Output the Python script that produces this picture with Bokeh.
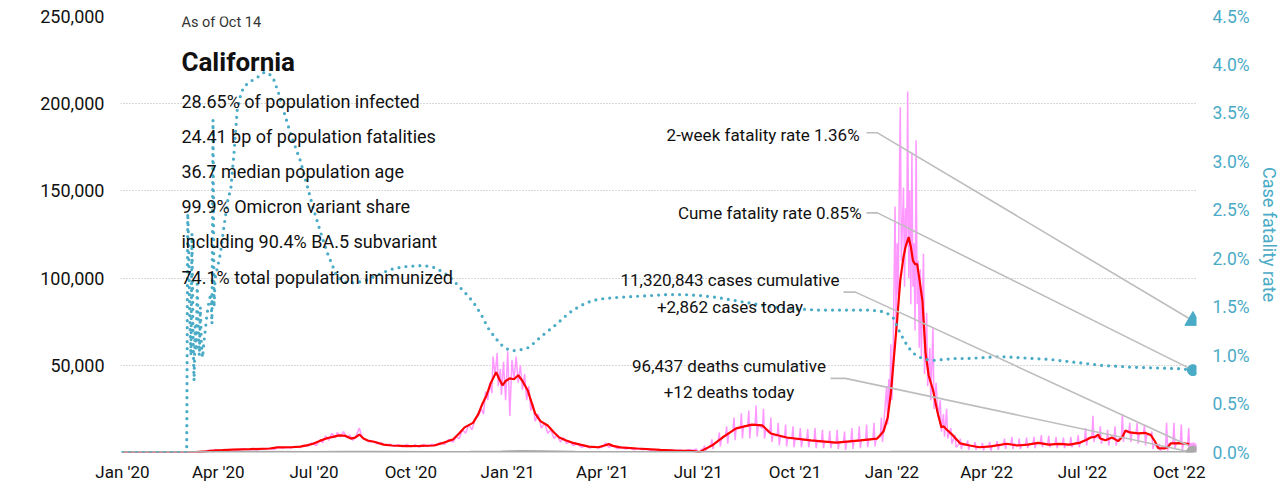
import numpy as np
import pandas as pd
from bokeh.plotting import figure
from bokeh.models import (Range1d, LinearAxis, FixedTicker, NumeralTickFormatter,
                          PrintfTickFormatter, DatetimeTickFormatter, Label)
from bokeh.embed import file_html
from bokeh.resources import INLINE

# ---------------- data (days since 2020-01-01, values) ----------------
# 7-day average of new cases (thousands)
cases_avg = [(0, 0), (20, 0), (55, 0.05), (69, 0.2), (80, 0.6), (86, 1.15), (95, 1.4), (105, 1.7),
             (121, 1.9), (140, 2.3), (147, 2.9), (160, 3.0), (169, 3.4), (176, 4.2), (181, 5.0),
             (188, 6.8), (195, 8.3), (200, 9.0), (206, 9.8), (212, 9.5), (217, 8.0), (221, 8.5),
             (225, 10.3), (229, 8.0), (233, 6.9), (240, 6.0), (248, 4.5), (256, 4.0), (270, 3.7),
             (283, 3.8), (296, 4.0), (303, 5.2), (309, 6.5), (314, 7.5), (320, 11.0), (325, 14.4),
             (333, 17.0), (338, 22.0), (342, 28.0), (346, 33.0), (350, 40.0), (355, 46.0),
             (358, 42.0), (361, 38.5), (364, 41.0), (368, 42.5), (372, 42.0), (376, 44.3),
             (380, 41.0), (385, 35.6), (389, 28.0), (392, 22.4), (397, 18.0), (404, 15.5),
             (410, 11.5), (415, 8.6), (421, 7.0), (427, 5.7), (435, 4.5), (443, 3.4), (452, 3.0),
             (458, 4.0), (462, 4.8), (466, 3.8), (473, 2.9), (489, 2.3), (511, 1.5), (530, 1.0),
             (540, 1.0), (545, 0.6), (548, 0.2), (552, 1.5), (560, 4.0), (570, 8.6), (583, 13.8),
             (598, 16.0), (608, 15.5), (616, 10.9), (631, 8.6), (654, 6.9), (678, 5.7), (701, 6.9),
             (717, 8.0), (723, 12.0), (727, 20.0), (730, 34.0), (733, 55.0), (736, 76.0),
             (739, 99.0), (742, 112.0), (744, 118.0), (747, 123.5), (749, 118.0), (751, 110.0),
             (753, 108.0), (755, 108.0), (757, 100.0), (760, 87.0), (763, 57.0), (766, 44.0),
             (768, 40.0), (770, 36.0), (774, 24.0), (778, 14.4), (780, 15.0), (784, 12.6),
             (789, 9.8), (796, 5.2), (805, 4.0), (814, 3.0), (825, 3.5), (840, 5.0), (850, 4.0),
             (860, 4.5), (870, 5.5), (880, 4.5), (890, 5.0), (900, 4.5), (910, 5.7), (915, 7.0),
             (920, 8.6), (924, 9.0), (927, 10.3), (929, 8.0), (934, 7.0), (940, 8.6), (946, 6.5),
             (950, 9.0), (953, 12.6), (957, 11.5), (965, 11.0), (972, 11.2), (977, 10.0),
             (981, 6.3), (984, 2.5), (990, 2.3), (993, 3.0), (996, 5.2), (1005, 5.4), (1012, 5.0),
             (1015, 4.0), (1017, 3.5)]

# daily new cases (thousands), 2020 through mid-2021
cases_daily_a = [(0, 0), (50, 0), (62, 0.1), (70, 0.5), (76, 0.3), (80, 1.0), (84, 1.5), (86, -0.5),
                 (88, 1.8), (92, 1.2), (96, 1.6), (100, 1.0), (104, 1.8), (108, 1.3), (112, 1.6),
                 (116, 2.2), (120, 1.5), (124, 1.9), (128, 1.4), (132, 2.2), (136, 1.8), (140, 2.4),
                 (144, 1.7), (148, 3.2), (152, 2.4), (156, 3.0), (160, 2.5), (164, 3.4), (168, 2.8),
                 (172, 4.2), (176, 3.5), (180, 5.5), (184, 4.0), (188, 7.5), (190, 5.5), (193, 9.5),
                 (196, 7.0), (199, 11.0), (202, 8.5), (204, 11.5), (207, 9.0), (210, 12.0),
                 (213, 8.5), (216, 10.0), (219, 7.0), (222, 9.5), (225, 14.0), (228, 8.0),
                 (231, 7.5), (234, 6.0), (238, 6.5), (242, 5.0), (246, 5.5), (250, 4.0), (254, 4.8),
                 (258, 3.5), (262, 4.5), (266, 3.2), (270, 4.6), (274, 3.3), (278, 4.5), (282, 3.0),
                 (286, 4.6), (290, 3.4), (294, 4.8), (298, 4.0), (302, 5.8), (306, 4.5), (310, 7.5),
                 (314, 6.0), (317, 9.0), (320, 8.0), (323, 13.0), (326, 11.0), (329, 16.0),
                 (332, 13.0), (335, 19.0), (338, 21.0), (341, 25.0), (343, 22.0), (345, 35.0),
                 (347, 30.0), (349, 40.0), (351, 34.0), (352, 55.0), (354, 45.0), (356, 57.0),
                 (357, 38.0), (359, 48.0), (360, 33.0), (362, 52.0), (364, 30.0), (366, 58.0),
                 (368, 21.0), (370, 53.0), (372, 42.0), (374, 55.0), (376, 40.0), (378, 50.0),
                 (380, 36.0), (382, 45.0), (384, 30.0), (386, 38.0), (388, 24.0), (390, 28.0),
                 (392, 18.0), (395, 22.0), (398, 14.0), (401, 17.0), (404, 11.0), (407, 13.0),
                 (410, 8.0), (413, 10.0), (416, 6.0), (419, 8.5), (422, 5.0), (425, 6.5), (428, 4.0),
                 (432, 5.0), (436, 3.0), (440, 4.0), (444, 2.5), (448, 3.5), (452, 2.5), (456, 3.2),
                 (459, 5.5), (462, 3.0), (466, 4.0), (470, 2.2), (474, 3.0), (478, 2.0), (482, 2.6),
                 (486, 1.6), (490, 2.4), (494, 1.5), (498, 2.0), (502, 1.2), (506, 1.8), (510, 1.0),
                 (514, 1.6), (518, 1.0), (522, 1.5), (526, 0.9), (530, 1.4), (534, 1.0), (538, 1.6),
                 (542, 1.2), (545, 2.0), (548, -0.5), (550, 1.8)]

# weekly reporting rhythm, mid-2021: (first day, [usual, spike, dip, usual]) on 4 consecutive days
cases_daily_b = [(552, [1.8, 4.0, 1.0, 2.2]), (559, [4.0, 7.5, 2.0, 5.0]),
                 (566, [6.5, 11.5, 3.5, 7.5]), (573, [10.0, 15.0, 5.0, 11.0]),
                 (580, [12.5, 20.0, 7.0, 13.5]), (587, [14.0, 22.5, 8.0, 15.0]),
                 (594, [15.0, 24.0, 8.0, 16.0]), (601, [15.5, 27.0, 9.0, 16.0]),
                 (608, [14.0, 25.0, 8.0, 13.0]), (615, [11.0, 20.0, 6.0, 10.0]),
                 (622, [9.5, 17.0, 4.0, 9.0]), (629, [8.5, 16.0, 3.5, 8.0]),
                 (636, [8.0, 15.0, 3.0, 7.5]), (643, [7.5, 14.0, 3.0, 7.0]),
                 (650, [7.0, 13.5, 3.0, 7.0]), (657, [6.5, 14.0, 2.5, 6.5]),
                 (664, [6.0, 13.0, 2.5, 6.0]), (671, [6.0, 12.5, 2.5, 5.5]),
                 (678, [5.5, 13.0, 2.0, 5.5]), (685, [6.0, 12.0, 1.5, 6.0]),
                 (692, [6.0, 14.0, 2.0, 6.5]), (699, [6.5, 15.0, 2.5, 7.0]),
                 (706, [7.0, 16.0, 3.0, 7.5]), (713, [7.5, 17.0, 3.5, 8.0]),
                 (720, [9.0, 20.0, 6.0, 12.0])]

# Omicron winter, daily
cases_daily_c = [(724, 22), (726, 38), (727, 16), (728, 42), (729, 28), (730, 62), (731, 30),
                 (732, 48), (733, 95), (734, 141), (735, 70), (736, 120), (737, 90), (738, 150),
                 (739, 198), (740, 110), (741, 130), (742, 152), (743, 95), (744, 140), (745, 118),
                 (746, 207), (747, 100), (748, 150), (749, 85), (750, 172), (751, 95), (752, 120),
                 (753, 70), (754, 179), (755, 85), (756, 110), (757, 60), (758, 105), (759, 55),
                 (761, 114), (762, 45), (764, 80), (765, 38), (767, 60), (768, 30), (770, 72),
                 (771, 25), (773, 40), (775, 20), (777, 30), (778, 12), (780, 22), (781, 9),
                 (783, 25), (784, 8), (787, 14), (788, 5), (791, 10), (792, 3)]

# weekly reporting rhythm, 2022
cases_daily_d = [(795, [5.0, 8.0, 2.0, 4.5]), (802, [4.0, 7.0, 1.5, 4.0]),
                 (809, [3.5, 6.0, 1.5, 3.5]), (816, [3.0, 5.5, 1.2, 3.0]),
                 (823, [3.5, 6.0, 1.0, 3.5]), (830, [4.0, 6.5, 1.5, 4.0]),
                 (837, [4.5, 8.0, 2.0, 5.0]), (844, [5.0, 9.0, 2.0, 5.0]),
                 (851, [4.0, 8.0, 2.0, 4.0]), (858, [4.5, 8.5, 2.5, 4.5]),
                 (865, [5.0, 9.0, 2.5, 5.0]), (872, [5.5, 10.0, 3.0, 5.5]),
                 (879, [4.5, 9.5, 3.0, 4.5]), (886, [5.0, 9.0, 2.5, 5.0]),
                 (893, [4.5, 8.5, 2.5, 4.5]), (900, [4.5, 9.0, 3.0, 5.0]),
                 (907, [5.5, 10.0, 3.0, 6.0]), (914, [7.0, 14.0, 4.0, 8.0]),
                 (921, [9.0, 21.0, 6.0, 9.5]), (928, [8.0, 15.0, 5.0, 7.5]),
                 (935, [7.0, 13.0, 4.0, 8.0]), (942, [8.0, 15.0, 4.0, 7.0]),
                 (949, [9.0, 22.0, 6.0, 12.0]), (956, [11.5, 17.0, 6.0, 11.0]),
                 (963, [11.0, 17.0, 5.0, 11.0]), (970, [11.0, 16.0, 4.0, 10.0]),
                 (977, [10.0, 12.0, 2.0, 5.0]), (984, [2.5, 5.0, 0.5, 2.5]),
                 (991, [3.0, 17.0, 1.0, 5.0]), (998, [5.5, 17.0, 2.0, 5.5]),
                 (1005, [5.5, 16.0, 1.5, 5.0]), (1012, [5.0, 14.0, 1.0, 4.0])]
cases_daily_last = (1017, 2.862)

# daily deaths
deaths_daily = [(0, 0), (60, 2), (90, 60), (120, 80), (180, 70), (210, 130), (240, 120), (300, 50),
                (330, 120), (360, 350), (380, 550), (400, 450), (430, 180), (480, 50), (550, 25),
                (600, 70), (650, 60), (700, 40), (730, 80), (760, 200), (790, 150), (820, 30),
                (900, 20), (1017, 12)]

# case fatality rate (%)
cfr = [(0, 0), (59, 0), (61, 0), (62, 2.47), (63, 2.1), (64, 1.4), (65, 1.0), (66, 2.26), (67, 1.2),
       (68, 0.74), (69, 1.3), (70, 1.05), (71, 1.74), (72, 1.3), (73, 1.0), (74, 1.5), (75, 1.1),
       (76, 0.98), (78, 1.2), (80, 1.4), (82, 1.55), (84, 1.64), (85, 1.33), (86, 3.43), (87, 1.5),
       (88, 1.8), (90, 1.9), (93, 2.05), (96, 2.3), (100, 2.6), (103, 2.73), (106, 3.1),
       (109, 3.53), (112, 3.68), (115, 3.77), (120, 3.82), (128, 3.87), (134, 3.92), (138, 3.92),
       (143, 3.87), (148, 3.72), (153, 3.53), (160, 3.28), (169, 3.01), (175, 2.77), (181, 2.53),
       (188, 2.28), (195, 2.05), (204, 1.81), (212, 1.76), (220, 1.75), (230, 1.77), (238, 1.81),
       (248, 1.86), (258, 1.90), (270, 1.92), (286, 1.93), (296, 1.91), (305, 1.86), (313, 1.79),
       (321, 1.70), (328, 1.62), (334, 1.54), (341, 1.42), (347, 1.29), (353, 1.20), (359, 1.12),
       (365, 1.07), (371, 1.05), (378, 1.06), (385, 1.08), (391, 1.13), (397, 1.19), (405, 1.26),
       (413, 1.33), (420, 1.40), (428, 1.47), (438, 1.53), (447, 1.57), (458, 1.59), (470, 1.60),
       (485, 1.61), (502, 1.62), (518, 1.63), (533, 1.63), (549, 1.62), (565, 1.60), (581, 1.57),
       (597, 1.54), (612, 1.51), (628, 1.49), (644, 1.48), (660, 1.47), (684, 1.47), (708, 1.47),
       (720, 1.46), (726, 1.44), (730, 1.41), (733, 1.38), (736, 1.30), (739, 1.23), (743, 1.15),
       (747, 1.08), (752, 1.02), (758, 0.98), (764, 0.96), (770, 0.95), (780, 0.96), (790, 0.97),
       (803, 0.97), (818, 0.98), (834, 0.99), (850, 0.98), (866, 0.97), (882, 0.96), (898, 0.94),
       (914, 0.92), (929, 0.90), (945, 0.89), (960, 0.88), (975, 0.875), (990, 0.87),
       (1005, 0.865), (1017, 0.85)]

last_day = 1017
two_week_cfr = 1.36
cume_cfr = 0.85
cases_today = 2862
deaths_today = 12

x_ticks = ["2020-01-01", "2020-04-01", "2020-07-01", "2020-10-01", "2021-01-01", "2021-04-01",
           "2021-07-01", "2021-10-01", "2022-01-01", "2022-04-01", "2022-07-01", "2022-10-01"]
y_ticks = [50000, 100000, 150000, 200000, 250000]
cfr_ticks = [0.0, 0.5, 1.0, 1.5, 2.0, 2.5, 3.0, 3.5, 4.0, 4.5]

stats = ["28.65% of population infected", "24.41 bp of population fatalities",
         "36.7 median population age", "99.9% Omicron variant share",
         "including 90.4% BA.5 subvariant", "74.1% total population immunized"]

# ---------------- helpers ----------------
BASE = pd.Timestamp("2020-01-01")


def dts(days):
    return BASE + pd.to_timedelta(np.asarray(days, dtype=float), unit="D")


def ms(day):
    return (BASE + pd.Timedelta(days=float(day))).value / 1e6


def weekly_points(blocks):
    out = []
    for d0, vals in blocks:
        out.extend((d0 + i, v) for i, v in enumerate(vals))
    return out


cases_daily = (cases_daily_a + weekly_points(cases_daily_b) + cases_daily_c
               + weekly_points(cases_daily_d) + [cases_daily_last])

FONT = "Roboto"
AXFONT = "Roboto"
TEAL = "#4aabc6"
PINK = "#ff99ff"
RED = "#ff0000"
GRAY = "#aaaaaa"
LEAD = "#bdbdbd"
TXT = "#111111"

p = figure(x_axis_type="datetime", frame_width=1076, frame_height=436,
           min_border_left=120, min_border_right=78, min_border_top=16, min_border_bottom=32,
           x_range=Range1d(ms(-1.9), ms(1020.4)), y_range=Range1d(0, 250000),
           output_backend="svg", toolbar_location=None, outline_line_color=None,
           background_fill_color="white", border_fill_color="white")
p.extra_y_ranges = {"cfr": Range1d(0, 4.5)}

# axes
p.yaxis.ticker = FixedTicker(ticks=y_ticks)
p.yaxis.formatter = NumeralTickFormatter(format="0,0")
p.xaxis.ticker = FixedTicker(ticks=[pd.Timestamp(t).value / 1e6 for t in x_ticks])
fmt = "%b '%y"
p.xaxis.formatter = DatetimeTickFormatter(years=fmt, months=fmt, days=fmt, hours=fmt,
                                          minutes=fmt, seconds=fmt, milliseconds=fmt,
                                          microseconds=fmt, hourmin=fmt, minsec=fmt)
ax2 = LinearAxis(y_range_name="cfr", ticker=FixedTicker(ticks=cfr_ticks),
                 formatter=PrintfTickFormatter(format="%.1f%%"),
                 axis_label="Case fatality rate")
p.add_layout(ax2, "right")

for ax in [p.xaxis[0], p.yaxis[0], ax2]:
    ax.axis_line_color = None
    ax.major_tick_line_color = None
    ax.minor_tick_line_color = None
    ax.major_tick_out = 0
    ax.major_tick_in = 0
    ax.minor_tick_out = 0
    ax.minor_tick_in = 0
    ax.major_label_text_font = FONT
    ax.major_label_text_font_size = "18px"
    ax.major_label_text_color = TXT
p.xaxis[0].major_label_text_font_size = "17px"
p.yaxis[0].major_label_standoff = 16
p.xaxis[0].major_label_standoff = 9
ax2.major_label_standoff = 16
ax2.major_label_text_font_size = "17.5px"
ax2.major_label_text_color = TEAL
ax2.axis_label_text_color = TEAL
ax2.axis_label_text_font = AXFONT
ax2.axis_label_text_font_size = "18px"
ax2.axis_label_text_font_style = "normal"
ax2.axis_label_standoff = 6

p.xgrid.grid_line_color = None
p.ygrid.grid_line_color = "#b3b3b3"
p.ygrid.grid_line_dash = "1 2"
p.ygrid.grid_line_width = 1

# series
cd_d, cd_v = zip(*cases_daily)
p.line(dts(cd_d), np.array(cd_v) * 1000, color=PINK, line_width=1.5)
ca_d, ca_v = zip(*cases_avg)
p.line(dts(ca_d), np.array(ca_v) * 1000, color=RED, line_width=2.2)
de_d, de_v = zip(*deaths_daily)
p.line(dts(de_d), de_v, color=GRAY, line_width=3)
cf_d, cf_v = zip(*cfr)
p.line(dts(cf_d), cf_v, color=TEAL, line_width=3.2, line_dash="0 7", line_cap="round",
       y_range_name="cfr")

# leader lines (annotation anchors -> latest values)
to_left = 250000 / 4.5
leaders = [((706.9, 183300), (717.3, 183300), (last_day, two_week_cfr * to_left)),
           ((706.9, 137400), (717.3, 137400), (last_day, cume_cfr * to_left)),
           ((685.0, 91950), (696.4, 91950), (last_day, cases_today)),
           ((672.7, 42500), (686.9, 42500), (last_day, deaths_today))]
for a, b, c in leaders:
    p.line(dts([a[0], b[0], c[0]]), [a[1], b[1], c[1]], color=LEAD, line_width=1.6)

# end markers
end = dts([last_day])
p.scatter(end, [cases_today], marker="circle", size=9, color=PINK)
p.scatter(end, [deaths_today], marker="circle", size=13, color=GRAY)
p.scatter(end, [cume_cfr], marker="circle", size=11, color=TEAL, y_range_name="cfr")
p.scatter(end, [two_week_cfr], marker="triangle", size=16, color=TEAL, y_range_name="cfr")


def add_text(day, yv, text, size, align="left", font=FONT, color=TXT, angle=0.0, style="normal"):
    p.add_layout(Label(x=ms(day), y=yv, text=text, text_font=font, text_font_size=size,
                       text_color=color, text_align=align, text_baseline="middle",
                       angle=angle, text_font_style=style))


# header block
add_text(56, 246500, "As of Oct 14", "14.5px", color="#333333")
add_text(56, 224000, "California", "26px", style="bold")
for i, s in enumerate(stats):
    add_text(56, 201150 - i * 20110, s, "18px")

# annotation labels
add_text(700.3, 182200, "2-week fatality rate 1.36%", "17px", align="right")
add_text(702.2, 137350, "Cume fatality rate 0.85%", "17px", align="right")
add_text(577.2, 98850, "11,320,843 cases cumulative", "17px", align="center")
add_text(577.2, 83330, "+2,862 cases today", "17px", align="center")
add_text(576.2, 49420, "96,437 deaths cumulative", "17px", align="center")
add_text(576.2, 34480, "+12 deaths today", "17px", align="center")

# left axis title
add_text(-98.8, 107500, "Daily new cases and deaths", "18px", align="center", font=AXFONT,
         angle=np.pi / 2)

open("out.html", "w").write(file_html(p, INLINE))
